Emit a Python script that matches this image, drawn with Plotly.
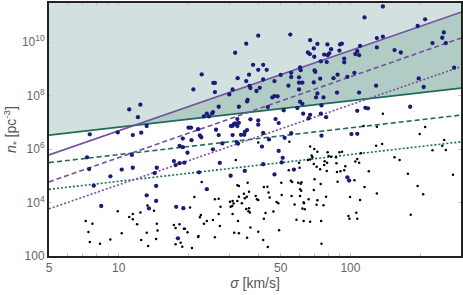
import math
import plotly.graph_objects as go

# ---- data ----
sigma_ends = [5, 300]                 # km/s
green_solid = [3.3e6, 1.9e8]
green_dash = [3.1e5, 1.86e7]
green_dot = [3.1e4, 1.86e6]
purple_solid = [6.0e5, 1.3e11]
purple_dash = [5.9e4, 1.4e10]
purple_dot = [5.8e3, 1.2e9]
n_top = 1e12

# navy sample: (sigma [km/s], log10 n)
navy_sigma = [7.5, 9.9, 11.1, 12.4, 12.1, 11.5, 12.5, 13.2,
              7.3, 7.45, 7.8, 8.4, 9.2, 10.3, 11.4, 11.5, 13.2, 13.5, 14.3, 14.6, 14.5, 14.5,
              40, 55, 35.5, 31.8, 65.5, 38, 42, 40, 43.5, 22.8, 36.5, 32.6, 35.5, 25.6, 26, 26, 21, 31, 30,
              36.7, 37, 39.3, 40.6, 42, 47, 50, 55.5, 55.5, 60, 62, 60, 54, 60, 47, 48.5, 46, 36, 35.8,
              60.6, 62, 27, 25.5, 25.3, 33, 44, 51.5, 59, 24, 24.5, 23.3, 32.5, 31.8, 37, 40, 62.5, 66,
              20, 20.5, 22, 18.9, 22.4, 22.7, 20.6, 26.3, 27, 31, 31, 31.4, 30.5, 32.5, 33, 35, 34.8, 33.7,
              35.8, 40, 42, 44.5, 49, 47.5, 52, 55.5, 18.3, 28, 32.3, 32.7, 41.5,
              18.9, 19.8, 25.5, 49, 51, 17.3, 18.3, 19.2, 17.6, 27.3, 22.2, 30.4, 35, 42, 50.5, 47, 57,
              24, 17.7, 19, 18,
              138, 115, 210, 195, 253, 249, 226, 258, 67, 66.8, 69.5, 72, 69.8, 79.5, 82.5, 77, 79.7, 81,
              90.2, 91.8, 89.6, 74.5, 79, 94, 94, 105, 107, 109, 110, 130, 138, 130, 155, 165, 70, 70.5,
              74, 69.5, 72, 71, 76.5, 84.5, 88, 97, 104, 87.5, 109, 129, 197, 207, 280, 75, 107, 116, 119,
              181, 67, 74.5, 78.5, 75, 101, 107, 60.6, 61, 97, 98.7]
navy_logn = [6.55, 6.62, 7.48, 7.66, 7.19, 6.52, 6.61, 6.86,
             5.69, 5.25, 4.63, 3.87, 4.98, 5.23, 5.78, 5.30, 4.27, 3.78, 5.10, 5.30, 4.62, 4.06,
             10.24, 10.28, 9.94, 9.60, 9.61, 9.15, 9.15, 8.96, 8.96, 8.79, 8.78, 8.65, 8.54, 8.47, 8.47, 8.13, 8.23, 8.23, 8.04,
             8.36, 8.28, 8.17, 8.29, 8.60, 8.54, 8.77, 8.85, 8.69, 8.68, 8.48, 8.48, 8.37, 8.23, 7.98, 7.97, 7.93, 7.84, 7.78,
             7.77, 7.69, 7.58, 7.38, 7.33, 7.58, 7.57, 7.45, 7.53, 7.32, 7.22, 7.22, 7.12, 6.96, 7.11, 7.07, 7.32, 7.15,
             6.80, 6.80, 6.74, 6.39, 6.51, 6.44, 6.33, 6.72, 6.52, 6.52, 6.87, 6.93, 6.86, 6.86, 6.98, 6.64, 6.53, 6.53,
             6.71, 6.91, 6.60, 6.36, 6.97, 7.12, 6.42, 6.59, 6.12, 6.21, 6.26, 6.20, 6.09,
             6.07, 5.86, 5.99, 5.93, 5.67, 5.55, 5.47, 5.49, 5.40, 5.48, 5.13, 5.00, 5.18, 5.43, 5.50, 5.05, 5.23,
             4.50, 3.84, 3.79, 2.66,
             11.33, 10.92, 10.85, 10.60, 10.36, 10.16, 9.96, 9.96, 10.07, 9.55, 9.76, 9.93, 9.45, 9.91, 9.73, 9.53, 9.51, 9.58,
             9.91, 9.94, 9.68, 9.28, 9.25, 9.38, 9.24, 9.55, 9.66, 9.51, 9.86, 10.15, 10.20, 9.80, 9.70, 9.61, 8.94, 8.89,
             8.63, 8.49, 8.08, 7.93, 7.93, 8.65, 8.78, 8.70, 8.85, 8.11, 8.11, 8.37, 8.64, 8.32, 9.04, 7.63, 7.43, 7.54, 7.52,
             7.58, 7.28, 7.32, 7.19, 6.50, 6.56, 6.57, 9.05, 8.95, 4.94, 4.82]

# black sample: (sigma [km/s], log10 n)
black_sigma = [7.2, 7.7, 7.4, 7.5, 8.3, 9.2, 9.9, 10.3, 11.1, 11.5, 11.5, 12.0, 12.4, 13.2, 13.3, 14.2, 14.6, 14.7, 13.4, 12.5, 14.5,
               22.8, 21.2, 20.3, 26, 27, 27.5, 22.6, 22.4, 24, 25.5, 23.3, 27, 17.3, 17.6, 18.3, 19.1, 19.3, 19.8, 17.6, 18.5,
               18.8, 20.7, 22.1, 22, 26, 27.3, 30.2, 31, 31.3, 31, 30.4, 30.9, 32.5, 33, 32.5, 33, 32.7, 32, 31.5, 33,
               34, 35, 35.7, 34.7, 36, 36.5, 35.5, 36.5, 36.3, 36.8, 37, 35.8, 39, 39.5, 40, 40, 42, 44, 42.3, 43.8,
               44.3, 44.8, 43, 42.3, 46.5, 49.2, 48, 48.8, 50.5, 50.3, 55.3, 56, 59.5, 61, 61.5, 55.7, 57.4, 62.8, 62,
               58.5, 62.8, 60, 60.3, 54.2, 40, 54.5,
               138, 114, 130, 210, 199, 254,
               67, 69.8, 72, 68, 68.5, 65.5, 67, 69.5, 71.5, 74, 77, 77.4, 79.3, 79.7, 80.5, 82.3, 86.6, 89.6, 92, 95,
               94, 87.5, 79, 70, 63.5, 67, 74.7, 63, 66, 72, 71.4, 76.5, 74.4, 78.5, 69.5, 75, 88, 99.6, 104, 98, 99,
               106, 107, 110, 115, 120, 130, 177, 182, 195, 206, 277, 90.5, 87, 107, 105, 109, 111, 129, 137, 155, 163,
               226, 249, 258, 60.6, 61.3, 60.6]
black_logn = [3.31, 3.21, 2.90, 2.52, 2.46, 2.62, 3.67, 2.85, 3.46, 3.57, 3.37, 3.19, 3.63, 2.87, 3.89, 3.69, 3.21, 2.95, 2.37, 2.60, 2.64,
              4.77, 4.21, 3.81, 4.12, 4.14, 3.84, 3.53, 3.45, 3.31, 3.35, 3.21, 3.57, 3.16, 3.05, 3.19, 3.02, 3.02, 2.89, 2.44, 2.50,
              2.35, 2.30, 2.75, 2.71, 2.70, 3.12, 4.03, 4.06, 3.96, 3.57, 3.84, 3.87, 4.06, 4.22, 4.65, 4.62, 3.31, 5.59, 2.87, 2.85,
              3.97, 4.16, 4.22, 4.33, 4.74, 4.40, 3.76, 3.79, 3.67, 3.63, 3.07, 2.68, 4.24, 4.12, 4.09, 2.91, 2.60, 2.34, 4.58, 4.59,
              4.37, 4.19, 3.61, 3.39, 3.66, 2.96, 4.02, 3.97, 4.28, 4.74, 4.81, 4.77, 4.74, 4.70, 4.76, 4.24, 3.93, 4.01, 3.78,
              3.36, 3.31, 5.49, 5.30, 5.21, 6.24, 6.27,
              7.32, 6.86, 6.83, 6.82, 6.56, 6.34,
              6.09, 6.00, 5.90, 5.76, 5.69, 5.59, 5.61, 5.44, 5.34, 5.24, 5.40, 5.54, 5.49, 5.88, 5.74, 5.71, 5.69, 5.88, 5.90, 5.36,
              5.21, 5.14, 5.18, 4.87, 3.75, 3.28, 3.31, 3.97, 4.12, 4.08, 3.92, 3.90, 4.69, 4.22, 4.47, 2.46, 4.78, 4.21, 4.83, 3.50, 3.39,
              3.62, 3.39, 4.09, 4.58, 5.17, 4.34, 5.08, 3.54, 4.62, 4.31, 5.04, 5.17, 5.47, 5.63, 5.53, 5.49, 5.84, 6.12, 6.19, 5.69, 5.59,
              5.95, 6.12, 5.96, 4.50, 4.44, 4.24]

x_ticks = [5, 10, 50, 100]
x_minor = [6, 7, 8, 9, 20, 30, 40, 60, 70, 80, 90, 200, 300]
y_ticks = [1e2, 1e4, 1e6, 1e8, 1e10]
y_ticktext = ["100", "10<sup>4</sup>", "10<sup>6</sup>", "10<sup>8</sup>", "10<sup>10</sup>"]

# ---- styles ----
LIGHT_FILL = "#d3e0e0"
DARK_FILL = "#b1cbc5"
GREEN = "#1e6b5a"
PURPLE = "#7450a0"
NAVY = "#1b1b78"
DASH = "5px,3px"
DOT = "2px,2px"

# crossing of purple solid and green solid (in log space)
lx = [math.log10(s) for s in sigma_ends]
def logline(vals):
    ly = [math.log10(v) for v in vals]
    m = (ly[1] - ly[0]) / (lx[1] - lx[0])
    return m, ly[0] - m * lx[0]
mp, bp = logline(purple_solid)
mg, bg = logline(green_solid)
lxc = (bg - bp) / (mp - mg)
sig_c = 10 ** lxc
n_c = 10 ** (mg * lxc + bg)

fig = go.Figure()
fig.add_trace(go.Scatter(
    x=[sigma_ends[0], sigma_ends[1], sigma_ends[1], sigma_ends[0]],
    y=[green_solid[0], green_solid[1], n_top, n_top],
    fill="toself", fillcolor=LIGHT_FILL, line=dict(width=0), mode="lines",
    hoverinfo="skip", showlegend=False))
fig.add_trace(go.Scatter(
    x=[sig_c, sigma_ends[1], sigma_ends[1]],
    y=[n_c, purple_solid[1], green_solid[1]],
    fill="toself", fillcolor=DARK_FILL, line=dict(width=0), mode="lines",
    hoverinfo="skip", showlegend=False))

for vals, col, dash in [(green_solid, GREEN, "solid"), (green_dash, GREEN, DASH),
                        (green_dot, GREEN, DOT), (purple_solid, PURPLE, "solid"),
                        (purple_dash, PURPLE, DASH), (purple_dot, PURPLE, DOT)]:
    fig.add_trace(go.Scatter(x=sigma_ends, y=vals, mode="lines",
                             line=dict(color=col, width=1.6, dash=dash),
                             showlegend=False))

fig.add_trace(go.Scatter(x=black_sigma, y=[10 ** v for v in black_logn], mode="markers",
                         marker=dict(color="black", size=2.5), showlegend=False))
fig.add_trace(go.Scatter(x=navy_sigma, y=[10 ** v for v in navy_logn], mode="markers",
                         marker=dict(color=NAVY, size=4.3), showlegend=False))

axis_common = dict(showline=True, mirror="allticks", linecolor="#222", linewidth=2,
                   showgrid=False, zeroline=False, automargin=False,
                   ticks="inside", ticklen=3, tickcolor="#c8c8c8", tickwidth=1,
                   tickfont=dict(size=12, color="#666"))
fig.update_xaxes(type="log", range=[math.log10(5), math.log10(300)],
                 tickvals=x_ticks, ticktext=[str(v) for v in x_ticks],
                 title=dict(text="<i>σ</i> [km/s]", font=dict(size=14, color="#555"), standoff=2),
                 minor=dict(ticks="inside", ticklen=3, tickcolor="#c8c8c8", tickwidth=1,
                            tickmode="array", tickvals=x_minor, showgrid=False),
                 **axis_common)
fig.update_yaxes(type="log", range=[2, 11.46],
                 tickvals=y_ticks, ticktext=y_ticktext,
                 title=dict(text="<i>n</i><sub>*</sub> [pc<sup>-3</sup>]", font=dict(size=14, color="#555"), standoff=2),
                 **axis_common)
fig.update_layout(width=463, height=295, margin=dict(l=49, r=2, t=3, b=39),
                  plot_bgcolor="white", paper_bgcolor="white",
                  font=dict(family="Liberation Sans, Arial, sans-serif", color="#555"))
fig.write_html("out.html", config={"displayModeBar": False},
               post_script="document.body.style.margin='0';")
